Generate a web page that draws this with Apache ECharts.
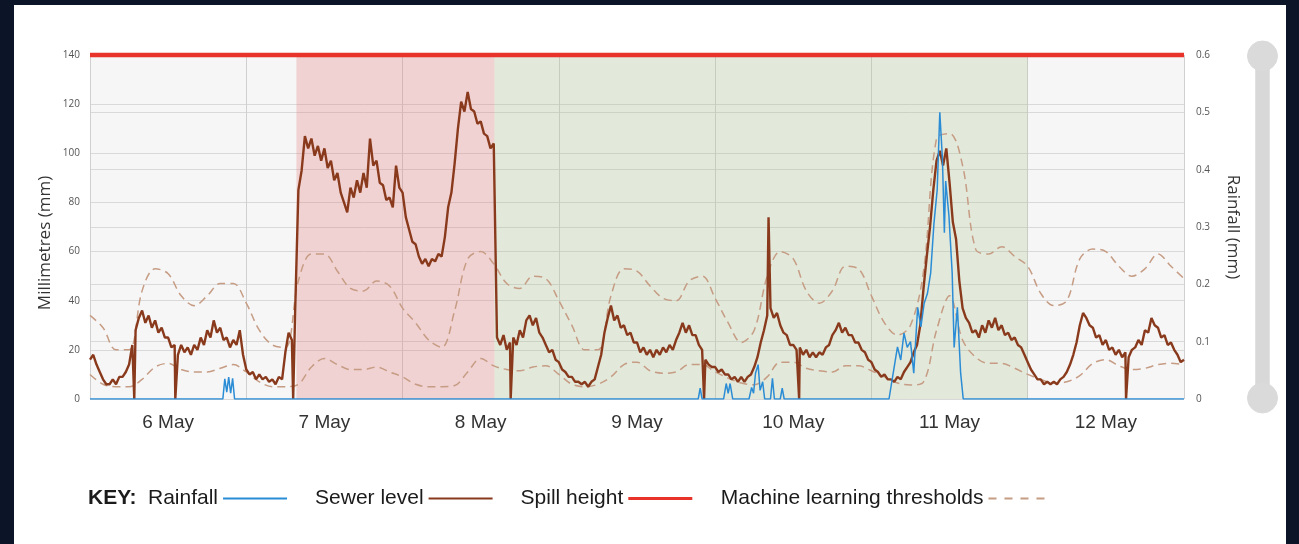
<html>
<head>
<meta charset="utf-8">
<script src="https://cdn.jsdelivr.net/npm/echarts@6/dist/echarts.min.js"></script>
<style>
    body { margin: 0; background: #0b1527; }
    #main {
        position: absolute;
        left: 14px;
        top: 5px;
        width: 1272px;
        height: 539px;
        background: #ffffff;
    }
</style>
</head>
<body>
<div id="main"></div>
<script>
// hours counted from 6 May 00:00, x axis runs 0 .. 168
var dayLabels = ['6 May', '7 May', '8 May', '9 May', '10 May', '11 May', '12 May'];

// sewer level (mm), one reading every 30 minutes, 12 hours per row
var sewerLevel = [
    16, 18, 14, 11, 8, 6, 6, 8, 6, 9, 9, 11, 14, 22, 28, 33, 36, 31, 34, 29, 32, 27, 29, 25,
    25, 21, 22, 18, 22, 19, 21, 18, 22, 20, 25, 22, 28, 25, 32, 27, 29, 24, 25, 21, 24, 22, 28, 18,
    12, 10, 11, 8, 10, 8, 9, 7, 8, 6, 9, 8, 19, 27, 24, 35, 85, 93, 107, 102, 106, 99, 103, 97,
    102, 94, 97, 89, 92, 84, 80, 76, 86, 82, 89, 84, 92, 86, 106, 95, 97, 88, 87, 81, 82, 78, 95, 86,
    84, 74, 69, 64, 63, 58, 55, 57, 54, 57, 56, 59, 58, 66, 78, 84, 96, 110, 121, 117, 125, 118, 117, 112,
    113, 108, 107, 102, 104, 25, 22, 26, 20, 23, 25, 22, 28, 25, 32, 34, 30, 33, 27, 25, 22, 19, 20, 16,
    15, 12, 11, 9, 9, 7, 7, 6, 7, 5, 7, 8, 13, 18, 27, 33, 38, 32, 34, 29, 30, 26, 27, 23,
    23, 19, 21, 18, 20, 17, 20, 18, 21, 19, 22, 20, 24, 27, 31, 27, 30, 26, 26, 22, 20, 16, 14, 13,
    13, 11, 12, 10, 10, 8, 9, 7, 9, 7, 9, 10, 13, 17, 23, 28, 34, 37, 33, 35, 30, 27, 26, 22,
    22, 20, 21, 18, 20, 17, 19, 17, 19, 18, 21, 22, 26, 28, 31, 27, 29, 26, 26, 23, 23, 20, 19, 16,
    15, 12, 11, 9, 10, 8, 8, 7, 9, 8, 11, 13, 15, 19, 22, 30, 45, 58, 70, 85, 97, 101, 95, 102,
    88, 72, 65, 48, 37, 33, 31, 27, 28, 25, 30, 27, 32, 29, 33, 28, 30, 26, 27, 24, 25, 22, 21, 18,
    15, 12, 10, 8, 8, 6, 7, 6, 7, 6, 8, 9, 11, 14, 18, 23, 30, 35, 33, 30, 29, 25, 26, 22,
    24, 20, 21, 18, 20, 17, 19, 17, 20, 21, 24, 22, 28, 27, 33, 30, 29, 25, 26, 22, 23, 20, 18, 15,
    16
];

// single readings that shoot away from the trace: [hour, mm]
var sewerSpikes = [[6.8, 0], [13.1, 0], [31.2, 0], [64.6, 0], [94.3, 0], [104.2, 74], [108.9, 0], [159.1, 0]];

// machine learning thresholds (mm), one value every 2 hours, one day per row
var upperThreshold = [
    34, 29, 20, 20, 44, 53, 51, 42, 38, 42, 47, 47,
    39, 28, 22, 21, 48, 59, 59, 52, 45, 44, 48, 46,
    37, 31, 24, 21, 36, 57, 60, 55, 47, 45, 50, 49,
    40, 30, 20, 20, 42, 53, 52, 46, 41, 40, 48, 50,
    41, 31, 23, 28, 50, 60, 57, 44, 39, 44, 54, 53,
    42, 31, 26, 30, 52, 106, 108, 95, 61, 59, 62, 58,
    54, 43, 38, 40, 57, 61, 60, 54, 50, 53, 59, 54,
    49
];
var lowerThreshold = [
    10, 6, 5, 5, 8, 13, 14.5, 12, 11, 11, 12.5, 14,
    11, 7, 5, 5, 6, 13, 16.5, 14, 12, 12, 13, 11,
    9, 6, 5, 5, 5.5, 11, 16.5, 13.5, 12, 11.5, 13, 13.5,
    10, 6, 5, 6, 9, 14, 15, 11.5, 10.5, 11, 14, 14,
    11, 8.5, 6.5, 5.8, 9, 15, 15, 12.5, 11.5, 11, 13.5, 13.5,
    11.5, 9, 6.5, 5.7, 7, 28, 42, 24, 17, 14.5, 14.5, 12.5,
    10, 8, 6.5, 7, 9.5, 14.5, 16, 13.5, 12, 12.5, 14, 14.5,
    14
];

// rainfall (mm): [hour, value]
var rainfall = [
    [0, 0], [20.4, 0], [20.7, 0.035], [21.0, 0.012], [21.3, 0.038], [21.6, 0.01], [21.9, 0.036], [22.2, 0],
    [93.4, 0], [93.7, 0.019], [94.0, 0],
    [97.3, 0], [97.7, 0.027], [98.0, 0.01], [98.3, 0.027], [98.7, 0],
    [101.2, 0], [101.6, 0.02], [101.9, 0.01], [102.2, 0.045], [102.6, 0.06], [102.9, 0.015], [103.3, 0.03], [103.6, 0],
    [104.5, 0], [104.8, 0.036], [105.1, 0],
    [106.0, 0], [106.3, 0.019], [106.6, 0],
    [122.7, 0], [123.5, 0.056], [124.0, 0.091], [124.5, 0.068], [125.0, 0.115], [125.5, 0.09], [126.0, 0.1],
    [126.5, 0.045], [127.1, 0.16], [127.6, 0.126], [128.1, 0.167], [128.6, 0.184], [129.1, 0.22],
    [129.6, 0.306], [130.1, 0.365], [130.5, 0.5], [130.9, 0.42], [131.2, 0.29], [131.4, 0.38],
    [131.9, 0.32], [132.4, 0.22], [132.7, 0.09], [133.2, 0.16], [133.7, 0.045], [134.1, 0],
    [168, 0]
];

var spillHeight = 140;

// band shading: [start hour, end hour]
var redBand = [31.7, 62.1];
var greenBand = [62.1, 144];

var sewerData = sewerLevel.map(function (v, i) {
    return [i * 0.5, v];
}).concat(sewerSpikes).sort(function (a, b) {
    return a[0] - b[0];
});
function every2h(arr) {
    return arr.map(function (v, i) {
        return [i * 2, v];
    });
}

var chart = echarts.init(document.getElementById('main'));
var font = 'Liberation Sans';

var option = {
    animation: false,
    grid: {
        left: 76,
        top: 50,
        width: 1094,
        height: 344,
        show: true,
        backgroundColor: '#f6f6f6',
        borderWidth: 0
    },
    graphic: [{
        type: 'text',
        left: 74,
        top: 483,
        style: {
            text: 'KEY:',
            font: 'bold 21px "Liberation Sans"',
            fill: '#1b1b1b'
        }
    }, {
        type: 'text',
        x: 31,
        y: 238,
        rotation: Math.PI / 2,
        style: {
            text: 'Millimetres (mm)',
            font: '17px "Open Sans"',
            fill: '#333',
            align: 'center',
            verticalAlign: 'middle'
        }
    }],
    legend: {
        left: 129,
        top: 478,
        itemGap: 27,
        itemWidth: 64,
        itemHeight: 12,
        align: 'right',
        selectedMode: false,
        itemStyle: {opacity: 0},
        textStyle: {fontSize: 21, color: '#1b1b1b', fontFamily: font},
        data: [
            {name: 'Rainfall', lineStyle: {width: 2}},
            {name: 'Sewer level', lineStyle: {width: 2}},
            {name: 'Spill height', lineStyle: {width: 3}},
            {name: 'Machine learning thresholds', lineStyle: {width: 2, type: [8, 8]}}
        ]
    },
    xAxis: [{
        type: 'category',
        data: dayLabels,
        boundaryGap: true,
        axisLine: {show: false},
        axisTick: {show: false},
        axisLabel: {fontSize: 19, color: '#333', margin: 14, fontFamily: font},
        splitLine: {show: true, interval: 0, lineStyle: {color: '#d0d0d0'}}
    }, {
        type: 'value',
        min: 0,
        max: 168,
        show: false
    }],
    yAxis: [{
        type: 'value',
        min: 0,
        max: 140,
        interval: 20,
        axisLine: {show: false},
        axisTick: {show: false},
        axisLabel: {fontSize: 10, color: '#555', margin: 10, fontFamily: 'Open Sans'},
        splitLine: {lineStyle: {color: '#d9d9d9'}}
    }, {
        type: 'value',
        position: 'right',
        min: 0,
        max: 0.6,
        interval: 0.1,
        name: 'Rainfall (mm)',
        nameLocation: 'middle',
        nameRotate: -90,
        nameGap: 40,
        nameTextStyle: {fontSize: 17, color: '#333', fontFamily: 'Open Sans'},
        axisLine: {show: false},
        axisTick: {show: false},
        axisLabel: {fontSize: 10, color: '#555', margin: 12, fontFamily: 'Open Sans'},
        splitLine: {lineStyle: {color: '#d9d9d9'}}
    }],
    dataZoom: [{
        type: 'slider',
        orient: 'vertical',
        yAxisIndex: [0, 1],
        filterMode: 'none',
        left: 1241,
        top: 50,
        bottom: 145,
        width: 14,
        showDetail: false,
        showDataShadow: false,
        brushSelect: false,
        moveHandleSize: 0,
        backgroundColor: '#d8d8d8',
        fillerColor: '#d8d8d8',
        borderColor: 'transparent',
        handleIcon: 'circle',
        handleSize: 30,
        handleStyle: {color: '#dadada', borderColor: '#dadada'},
        dataBackground: {lineStyle: {opacity: 0}, areaStyle: {opacity: 0}}
    }],
    series: [{
        name: 'Machine learning thresholds',
        type: 'line',
        xAxisIndex: 1,
        yAxisIndex: 0,
        z: 1,
        data: every2h(upperThreshold),
        smooth: 0.35,
        symbol: 'none',
        lineStyle: {color: '#c69c84', width: 1.5, type: [8, 5]},
        markArea: {
            silent: true,
            data: [
                [{xAxis: redBand[0], itemStyle: {color: 'rgba(230,120,120,0.28)'}}, {xAxis: redBand[1]}],
                [{xAxis: greenBand[0], itemStyle: {color: 'rgba(166,190,134,0.25)'}}, {xAxis: greenBand[1]}]
            ]
        }
    }, {
        name: 'Machine learning thresholds',
        type: 'line',
        xAxisIndex: 1,
        yAxisIndex: 0,
        z: 2,
        data: every2h(lowerThreshold),
        smooth: 0.35,
        symbol: 'none',
        lineStyle: {color: '#c69c84', width: 1.5, type: [8, 5]}
    }, {
        name: 'Sewer level',
        type: 'line',
        xAxisIndex: 1,
        yAxisIndex: 0,
        z: 3,
        data: sewerData,
        symbol: 'none',
        lineStyle: {color: '#8a3a1c', width: 2.4}
    }, {
        name: 'Rainfall',
        type: 'line',
        xAxisIndex: 1,
        yAxisIndex: 1,
        z: 4,
        data: rainfall,
        symbol: 'none',
        lineStyle: {color: '#2b8cd6', width: 1.5}
    }, {
        name: 'Spill height',
        type: 'line',
        xAxisIndex: 1,
        yAxisIndex: 0,
        z: 5,
        clip: false,
        data: [[0, spillHeight], [168, spillHeight]],
        symbol: 'none',
        lineStyle: {color: '#e8332a', width: 4.5}
    }]
};

chart.setOption(option);
</script>
</body>
</html>
